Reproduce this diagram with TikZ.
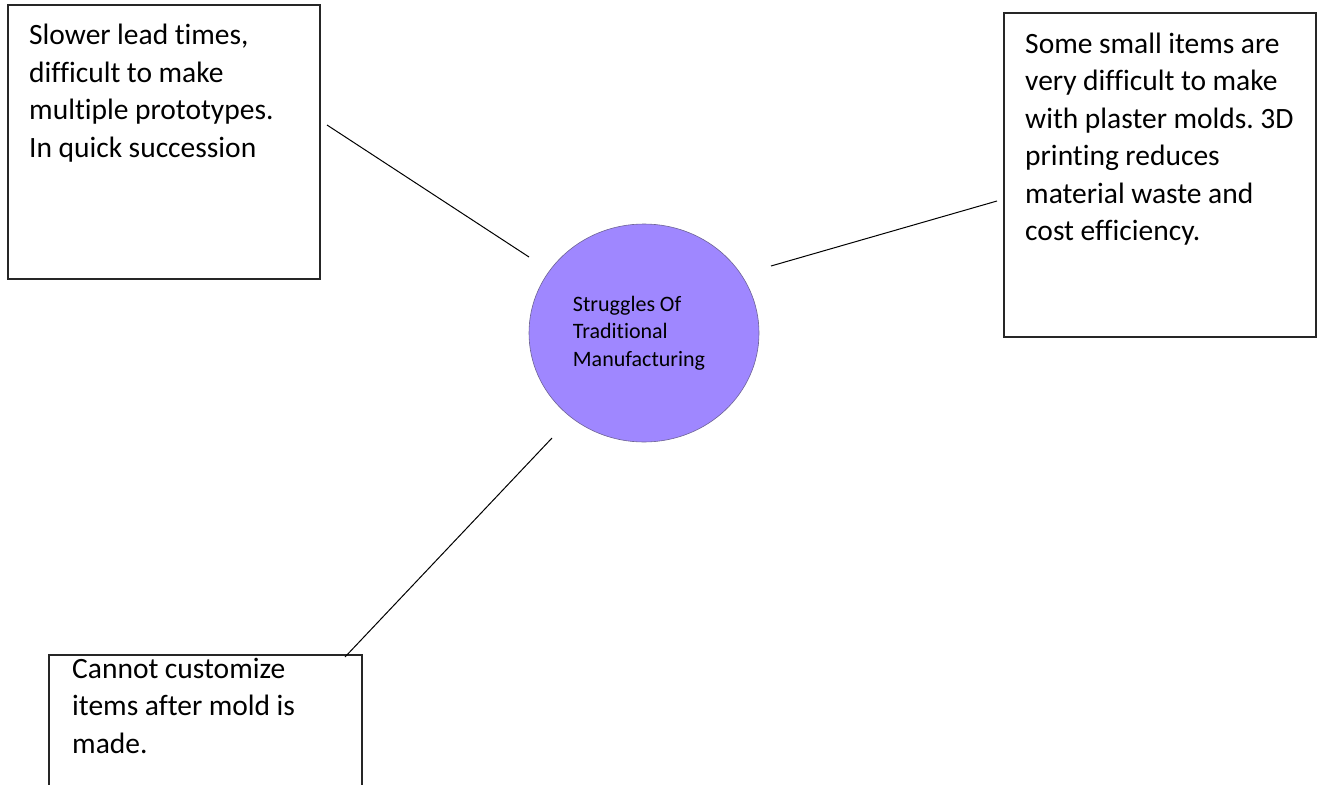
\documentclass[tikz,border=0pt]{standalone}
\usepackage{fontspec}
\setmainfont{Carlito}[Ligatures=NoCommon]
\usetikzlibrary{shapes.geometric}
\definecolor{bubble}{RGB}{159,135,255}
\definecolor{bubbleline}{RGB}{110,100,150}
\newcommand{\tightwords}{\frenchspacing\spaceskip=0.22em plus 0pt minus 0pt\xspaceskip=0.22em\relax}
\tikzset{
  notebox/.style={draw=black!85, line width=1.4pt, fill=none},
  notetext/.style={anchor=base west, inner sep=0pt, align=left, text width=300pt, font=\fontsize{29.5}{37.5}\selectfont, execute at begin node=\tightwords},
  hub/.style={ellipse, draw=bubbleline, line width=0.6pt, fill=bubble, minimum width=230pt, minimum height=218pt, inner sep=0pt, align=left, font=\fontsize{22}{27.5}\selectfont, execute at begin node=\tightwords},
  link/.style={draw=black, line width=1pt}
}
\begin{document}
\begin{tikzpicture}[x=1pt,y=-1pt]
\useasboundingbox (0,0) rectangle (1319,784);
% boxes
\draw[notebox] (8,5) rectangle (320,279);
\node[notetext] (t1) at (29,45) {Slower lead times,\\difficult to make\\multiple prototypes.\\In quick succession};
\draw[notebox] (1004,13) rectangle (1316,337);
\node[notetext] (t2) at (1025,53) {Some small items are\\very difficult to make\\with plaster molds. 3D\\printing reduces\\material waste and\\cost efficiency.};
\draw[notebox] (49,655) rectangle (362,800);
\node[notetext] (t3) at (72,678) {Cannot customize\\items after mold is\\made.};
% hub
\node[hub] (hub) at (644,333) {\hspace*{-10pt}Struggles Of\\\hspace*{-10pt}Traditional\\\hspace*{-10pt}Manufacturing};
% connectors
\coordinate (a1) at (327,125);
\coordinate (b1) at (529,257);
\coordinate (a2) at (771,266);
\coordinate (b2) at (997,201);
\coordinate (a3) at (552,438);
\coordinate (b3) at (345,657);
\draw[link] (a1) -- (b1);
\draw[link] (a2) -- (b2);
\draw[link] (a3) -- (b3);
\end{tikzpicture}
\end{document}
